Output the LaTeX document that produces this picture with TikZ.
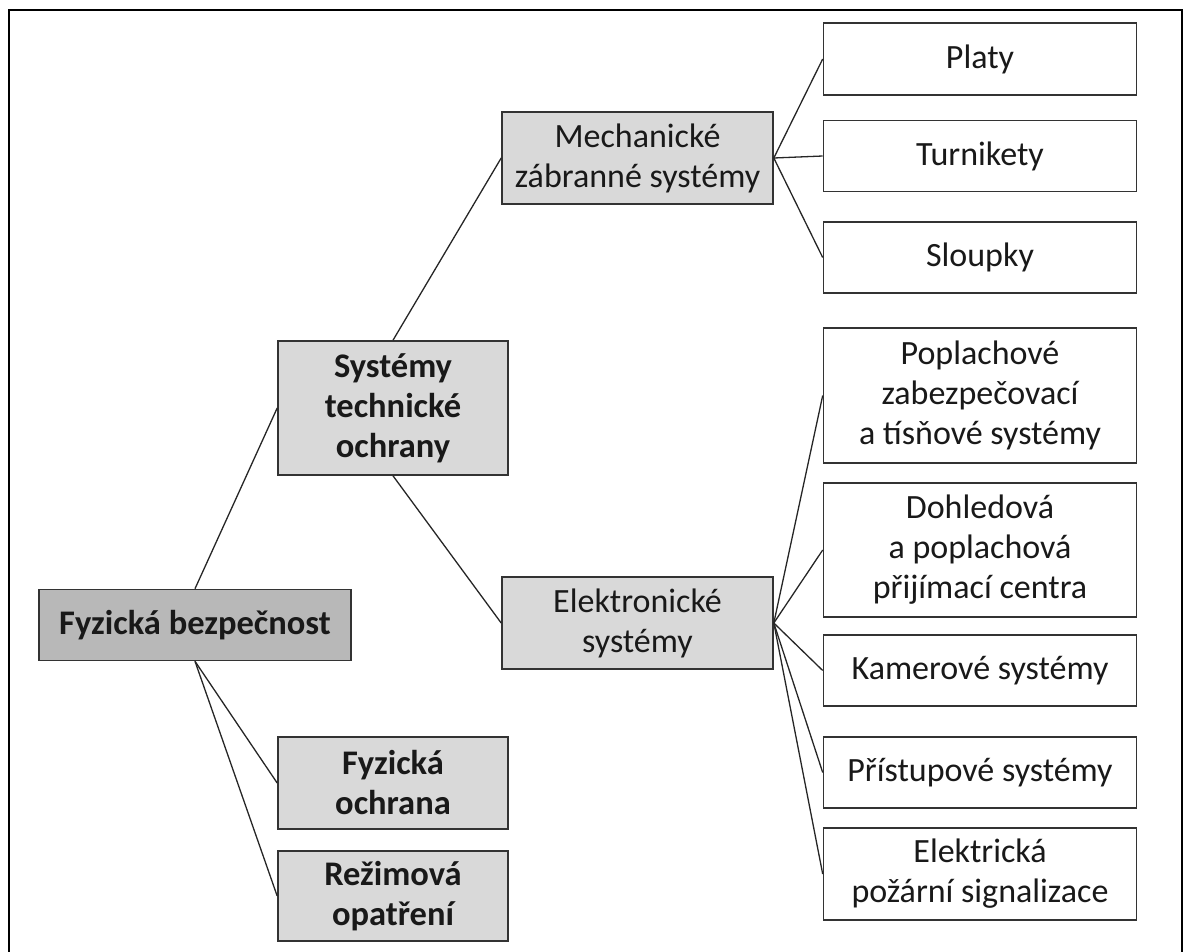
\documentclass[tikz,border=0pt]{standalone}
\usepackage{fontspec}
\setmainfont{Carlito}
\begin{document}
\begin{tikzpicture}[x=1pt,y=-1pt,
  box/.style={draw=black!80, line width=1.6pt, inner sep=0pt, align=center,
    text=black!90, font=\fontsize{34}{40}\selectfont},
  bf/.style={font=\fontsize{34.5}{40}\selectfont\bfseries},
  lgray/.style={box, fill=black!15},
  dgray/.style={box, fill=black!28},
  wbox/.style={box, fill=white, minimum width=313pt},
  conn/.style={draw=black!85, line width=1.3pt}]
\useasboundingbox (0,0) rectangle (1183,951);
\draw[line width=2pt] (9,980) -- (9,10) -- (1181.5,10) -- (1181.5,980);
% left
\node[dgray, bf, minimum width=312pt, minimum height=71pt] (fb) at (195,625) {Fyzická bezpečnost};
\node[lgray, bf, minimum width=230pt, minimum height=134pt] (sto) at (393,408) {Systémy\\technické\\ochrany};
\node[lgray, bf, minimum width=230pt, minimum height=92pt] (fo) at (393,783) {Fyzická\\ochrana};
\node[lgray, bf, minimum width=230pt, minimum height=90pt] (ro) at (393,896) {Režimová\\opatření};
% middle
\node[lgray, minimum width=271pt, minimum height=92pt] (mzs) at (637.5,158) {Mechanické\\zábranné systémy};
\node[lgray, minimum width=271pt, minimum height=92pt] (es) at (637.5,623) {Elektronické\\systémy};
% right
\node[wbox, minimum height=72pt] (platy) at (980,59) {Platy};
\node[wbox, minimum height=71pt] (turn) at (980,156) {Turnikety};
\node[wbox, minimum height=71pt] (slou) at (980,257.5) {Sloupky};
\node[wbox, minimum height=135pt] (popl) at (980,395.5) {Poplachové\\zabezpečovací\\a tísňové systémy};
\node[wbox, minimum height=134pt] (dohl) at (980,550) {Dohledová\\a poplachová\\přijímací centra};
\node[wbox, minimum height=71pt] (kam) at (980,670.5) {Kamerové systémy};
\node[wbox, minimum height=71pt] (pri) at (980,772.5) {Přístupové systémy};
\node[wbox, minimum height=92pt] (ele) at (980,874) {Elektrická\\požární signalizace};
% connectors
\draw[conn] (fb.north) -- (sto.west);
\draw[conn] (fb.south) -- (fo.west);
\draw[conn] (fb.south) -- (ro.west);
\draw[conn] (sto.north) -- (mzs.west);
\draw[conn] (sto.south) -- (es.west);
\foreach \t in {platy,turn,slou} \draw[conn] (mzs.east) -- (\t.west);
\foreach \t in {popl,dohl,kam,pri,ele} \draw[conn] (es.east) -- (\t.west);
\end{tikzpicture}
\end{document}
